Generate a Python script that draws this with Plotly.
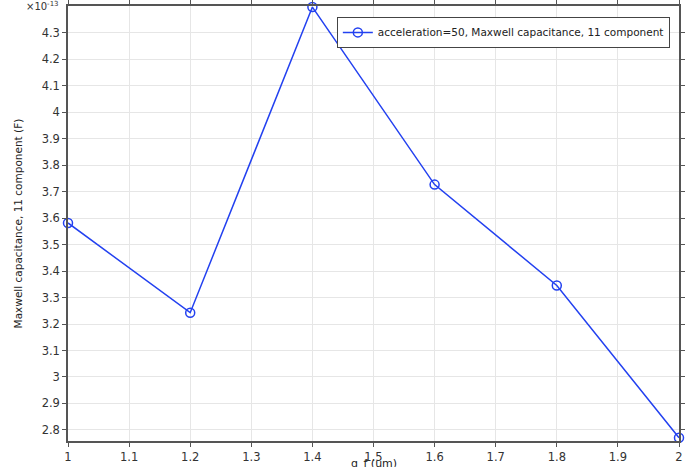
import plotly.graph_objects as go

gap_um = [1.0, 1.2, 1.4, 1.6, 1.8, 2.0]
capacitance_e13 = [3.582, 3.243, 4.398, 3.727, 3.346, 2.770]
series_name = "acceleration=50, Maxwell capacitance, 11 component"
x_ticks = [1, 1.1, 1.2, 1.3, 1.4, 1.5, 1.6, 1.7, 1.8, 1.9, 2]
x_tick_text = ["1", "1.1", "1.2", "1.3", "1.4", "1.5", "1.6", "1.7", "1.8", "1.9", "2"]
y_ticks = [2.8, 2.9, 3.0, 3.1, 3.2, 3.3, 3.4, 3.5, 3.6, 3.7, 3.8, 3.9, 4.0, 4.1, 4.2, 4.3]
y_tick_text = ["2.8", "2.9", "3", "3.1", "3.2", "3.3", "3.4", "3.5", "3.6", "3.7", "3.8", "3.9", "4", "4.1", "4.2", "4.3"]

blue = "rgb(35,65,240)"
font = "DejaVu Sans"

fig = go.Figure()
fig.add_trace(go.Scatter(
    x=gap_um, y=capacitance_e13, mode="lines+markers", name=series_name,
    line=dict(color=blue, width=1.5),
    marker=dict(symbol="circle-open", size=9, color=blue, line=dict(width=1.5, color=blue)),
    cliponaxis=False,
))

axis_common = dict(
    showline=True, linecolor="#555", linewidth=1.5, mirror="ticks",
    ticks="outside", ticklen=4, tickcolor="#555",
    showgrid=True, gridcolor="#e6e6e6", gridwidth=1, zeroline=False,
    tickfont=dict(family=font, size=11.5, color="#333"),
)

fig.update_xaxes(range=[1, 2], tickvals=x_ticks, ticktext=x_tick_text, **axis_common)
fig.update_yaxes(range=[2.758, 4.402], tickvals=y_ticks, ticktext=y_tick_text, **axis_common)

fig.update_layout(
    width=686, height=467,
    margin=dict(l=68, r=7, t=6, b=26, autoexpand=False),
    paper_bgcolor="white", plot_bgcolor="white",
    showlegend=True,
    legend=dict(x=0.985, y=0.975, xanchor="right", yanchor="top",
                bgcolor="white", bordercolor="#444", borderwidth=1,
                font=dict(family=font, size=10.5, color="#222")),
    annotations=[
        dict(text="×10<sup>-13</sup>", x=-0.012, y=1.0, xref="paper", yref="paper",
             xanchor="right", yanchor="middle", showarrow=False,
             font=dict(family=font, size=10, color="#333")),
        dict(text="g_f (um)", x=0.5, y=-0.033, xref="paper", yref="paper",
             xanchor="center", yanchor="top", showarrow=False,
             font=dict(family=font, size=11, color="#222")),
        dict(text="Maxwell capacitance, 11 component (F)", x=-0.082, y=0.5,
             xref="paper", yref="paper", xanchor="center", yanchor="middle",
             textangle=-90, showarrow=False,
             font=dict(family=font, size=10.5, color="#222")),
    ],
)

fig.write_html("out.html", config={"displayModeBar": False},
               post_script="document.body.style.margin='0';document.body.style.overflow='hidden';")
